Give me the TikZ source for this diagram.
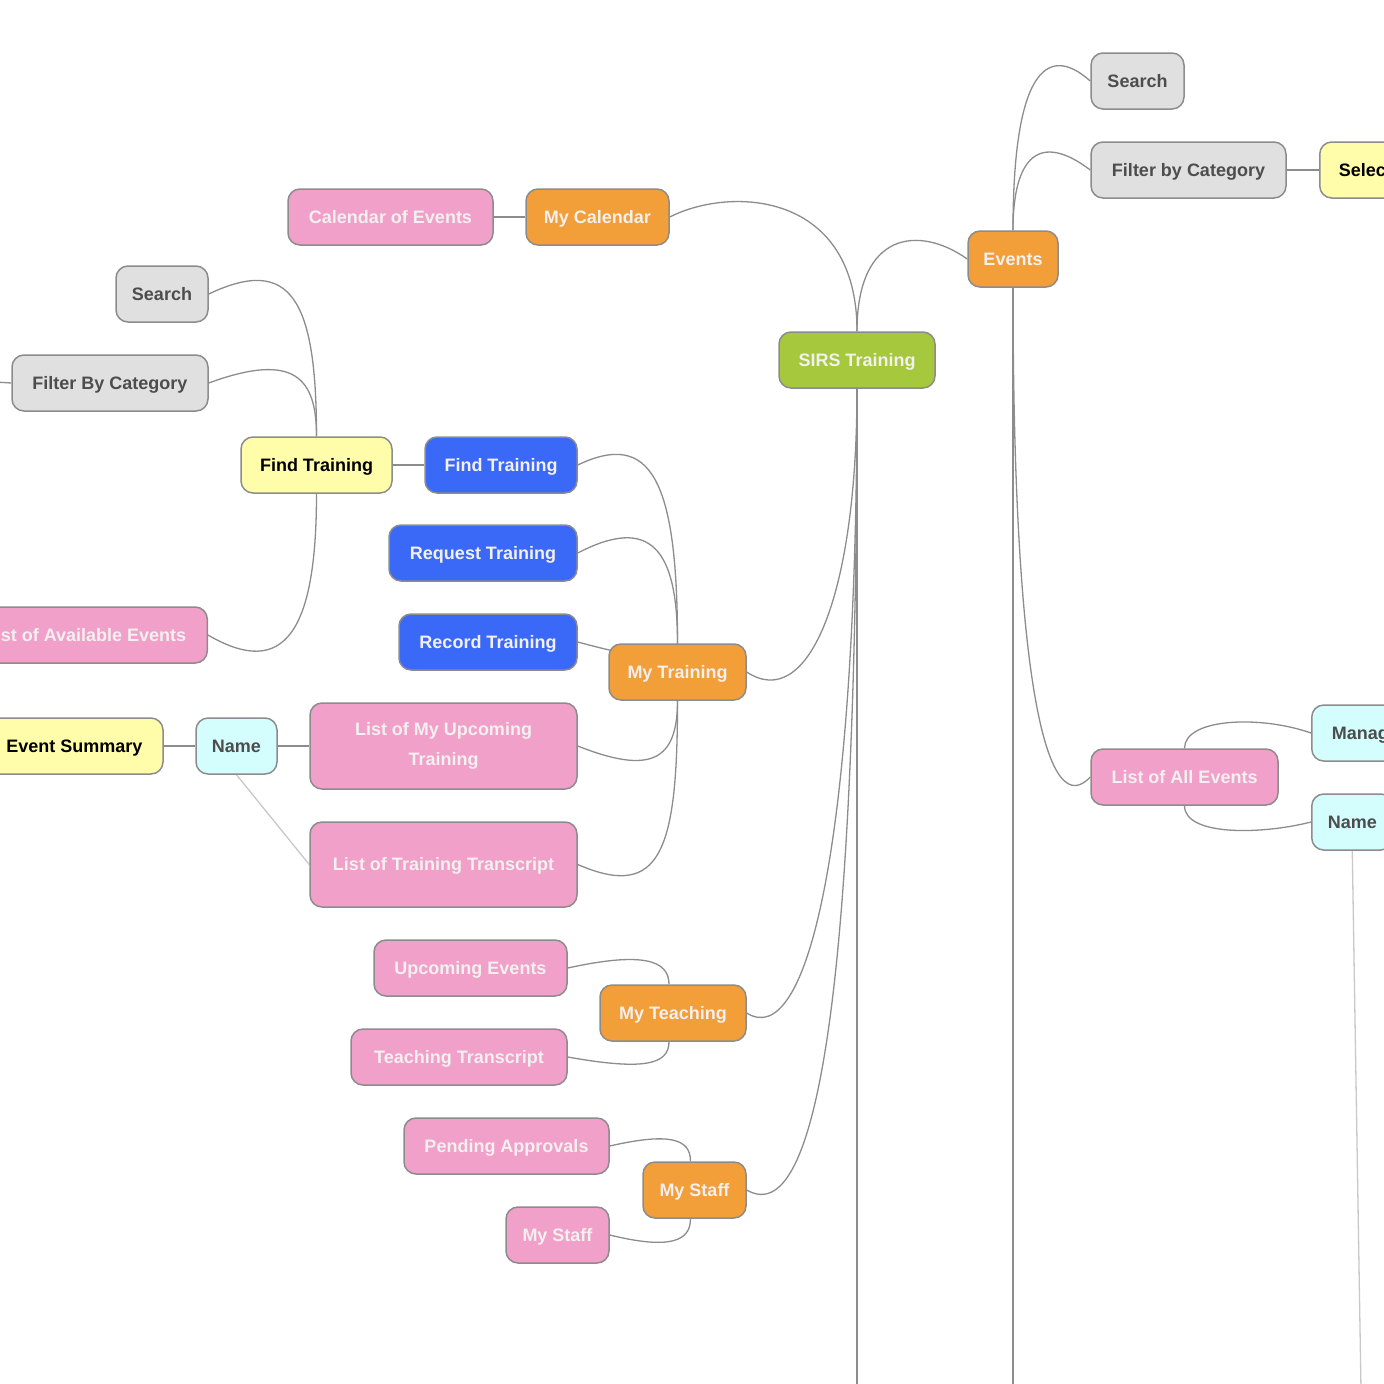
\documentclass[tikz,border=0pt]{standalone}
\usepackage{fontspec}
\setmainfont{Liberation Sans}
\usetikzlibrary{backgrounds}
\definecolor{cgreen}{HTML}{A6C83D}
\definecolor{corange}{HTML}{F29E39}
\definecolor{cpink}{HTML}{F1A0C9}
\definecolor{cblue}{HTML}{3B69F7}
\definecolor{cgray}{HTML}{E0E0E0}
\definecolor{cyellow}{HTML}{FFFDA9}
\definecolor{ccyan}{HTML}{D4FEFE}
\definecolor{cborder}{HTML}{8C8C8C}
\definecolor{cline}{HTML}{8C8C8C}
\definecolor{clight}{HTML}{C8C8C8}
\definecolor{ctlight}{HTML}{F3F0F0}
\definecolor{ctdark}{HTML}{4D4D4D}
\begin{document}
\begin{tikzpicture}[x=1pt,y=-1pt,
  basebox/.style={draw=cborder, line width=1.5pt, rounded corners=12pt,
    minimum height=56pt, inner xsep=12pt, inner ysep=0pt, align=center,
    font=\fontsize{18}{30}\selectfont\bfseries},
  box/.style={basebox, text height=12.9pt, text depth=0pt},
  green/.style={box, fill=cgreen, text=ctlight},
  orange/.style={box, fill=corange, text=ctlight},
  pink/.style={box, fill=cpink, text=ctlight},
  pinktwo/.style={basebox, fill=cpink, text=ctlight},
  blue/.style={box, fill=cblue, text=ctlight},
  grey/.style={box, fill=cgray, text=ctdark},
  yel/.style={box, fill=cyellow, text=black},
  cyan/.style={box, fill=ccyan, text=ctdark},
  link/.style={draw=cline, line width=1.3pt},
  faint/.style={draw=clight, line width=1.3pt}]
\useasboundingbox (0,0) rectangle (1384,1384);
% nodes
\node[green, minimum width=156pt] (sirs) at (857,360) {SIRS Training};
\node[orange, minimum width=143pt] (mycal) at (597.5,217) {My Calendar};
\node[pink, minimum width=205pt] (calev) at (390.5,217) {Calendar of Events};
\node[orange, minimum width=90pt] (events) at (1013,259) {Events};
\node[grey, minimum width=93pt] (search2) at (1137.5,81) {Search};
\node[grey, minimum width=195pt] (filter2) at (1188.5,170) {Filter by Category};
\node[yel, anchor=west, inner xsep=19pt] (select) at (1319,170) {Select};
\node[cyan, anchor=west, inner xsep=20pt] (manage) at (1311,733) {Manage};
\node[cyan, anchor=west, inner xsep=16pt] (name2) at (1311,822) {Name};
\node[pink, minimum width=187pt] (allev) at (1184.5,777) {List of All Events};
\node[grey, minimum width=92pt] (search1) at (162,294) {Search};
\node[grey, minimum width=196pt] (filter1) at (110,383) {Filter By Category};
\node[yel, minimum width=151pt] (findy) at (316.5,465) {Find Training};
\node[blue, minimum width=152pt] (findb) at (501,465) {Find Training};
\node[blue, minimum width=188pt] (req) at (483,553) {Request Training};
\node[blue, minimum width=178pt] (rec) at (488,642) {Record Training};
\node[orange, minimum width=137pt] (mytr) at (677.5,672) {My Training};
\node[pinktwo, minimum width=267pt, minimum height=86pt] (upc) at (443.5,746) {List of My Upcoming\\Training};
\node[pink, minimum width=267pt, minimum height=85pt] (trans) at (443.5,864.5) {List of Training Transcript};
\node[cyan, minimum width=81pt] (name1) at (236.5,746) {Name};
\node[yel, minimum width=177pt] (evsum) at (74.5,746) {Event Summary};
\node[pink, anchor=east, inner xsep=21pt] (avail) at (208,635) {List of Available Events};
\node[pink, minimum width=193pt] (upev) at (470.5,968) {Upcoming Events};
\node[orange, minimum width=146pt] (myteach) at (673,1013) {My Teaching};
\node[pink, minimum width=216pt] (tt) at (459,1057) {Teaching Transcript};
\node[pink, minimum width=205pt] (pend) at (506.5,1146) {Pending Approvals};
\node[orange, minimum width=103pt] (mystaff) at (694.5,1190) {My Staff};
\node[pink, minimum width=103pt] (mys2) at (557.5,1235) {My Staff};
% free ends
\coordinate (evbot) at (1013,1390);
\coordinate (sbot) at (857,1390);
\coordinate (n2bot) at (1361,1390);
\coordinate (fleft) at (-5,382);
% connectors
\begin{pgfonlayer}{background}
\draw[link] (mycal.east) .. controls +(61,-31) and +(0,-140) .. (sirs.north);
\draw[link] (sirs.north) .. controls +(0,-100) and +(-48,-34) .. (events.west);
\draw[link] (events.north) .. controls +(0,-155) and +(-45,-40) .. (search2.west);
\draw[link] (events.north) .. controls +(0,-75) and +(-50,-38) .. (filter2.west);
\draw[link] (filter2.east) -- (select.west);
\draw[link] (events.south) -- (evbot);
\draw[link] (events.south) .. controls +(0,413) and +(-41,44) .. (allev.west);
\draw[link] (allev.north) .. controls +(0,-30) and +(-51,-18) .. (manage.west);
\draw[link] (allev.south) .. controls +(0,30) and +(-51,13) .. (name2.west);
\draw[faint] (name2.south) -- (n2bot);
\draw[link] (sirs.south) -- (sbot);
\draw[link] (sirs.south) .. controls +(0,212) and +(60,40) .. (mytr.east);
\draw[link] (sirs.south) .. controls +(0,462) and +(60,38) .. (myteach.east);
\draw[link] (sirs.south) .. controls +(0,612) and +(69,40) .. (mystaff.east);
\draw[link] (mytr.north) .. controls +(0,-164) and +(73,-35) .. (findb.east);
\draw[link] (mytr.north) .. controls +(0,-94) and +(73,-38) .. (req.east);
\draw[link] (mytr.north) .. controls +(0,26) and +(30,8) .. (rec.east);
\draw[link] (mytr.south) .. controls +(0,60) and +(73,29) .. (upc.east);
\draw[link] (mytr.south) .. controls +(0,150) and +(83,36) .. (trans.east);
\draw[link] (findy.east) -- (findb.west);
\draw[link] (findy.north) .. controls +(0,-137) and +(82,-39) .. (search1.east);
\draw[link] (findy.north) .. controls +(0,-57) and +(87,-32) .. (filter1.east);
\draw[link] (findy.south) .. controls +(0,137) and +(77,45) .. (avail.east);
\draw[link] (filter1.west) -- (fleft);
\draw[link] (calev.east) -- (mycal.west);
\draw[link] (evsum.east) -- (name1.west);
\draw[link] (name1.east) -- (upc.west);
\draw[faint] (name1.south) -- (trans.west);
\draw[link] ([xshift=-4pt]myteach.north) .. controls +(0,-25) and +(73,-16) .. (upev.east);
\draw[link] ([xshift=-4pt]myteach.south) .. controls +(0,24) and +(73,13) .. (tt.east);
\draw[link] ([xshift=-4pt]mystaff.north) .. controls +(0,-22) and +(61,-14) .. (pend.east);
\draw[link] ([xshift=-4pt]mystaff.south) .. controls +(0,22) and +(61,15) .. (mys2.east);
\end{pgfonlayer}
\end{tikzpicture}
\end{document}
